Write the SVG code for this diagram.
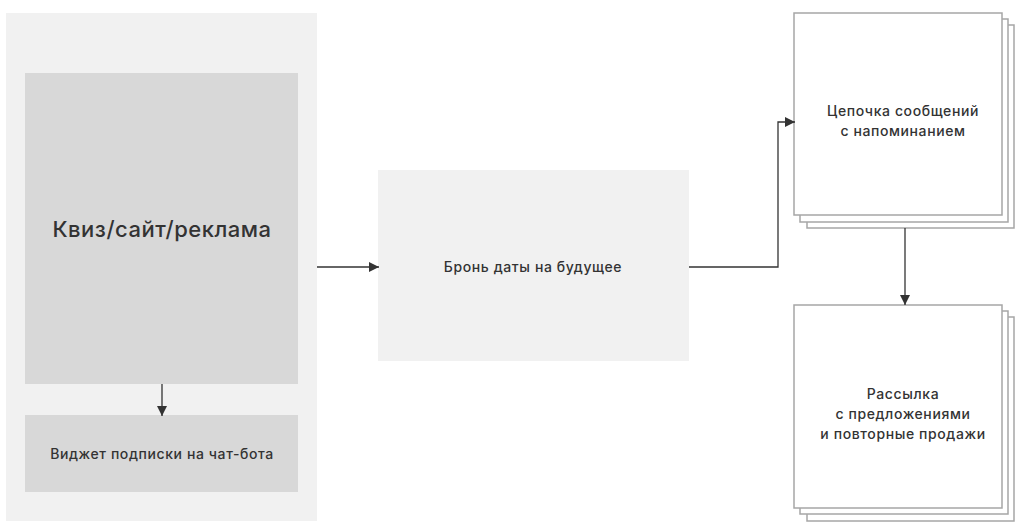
<svg xmlns="http://www.w3.org/2000/svg" width="1024" height="530" viewBox="0 0 1024 530">
<style>
.t{font-family:Inter,"Noto Sans","Liberation Sans",sans-serif;fill:#333;text-anchor:middle;font-weight:500}
.s{font-size:14px;letter-spacing:0.6px}
.card{fill:#fff;stroke:#a6a6a6;stroke-width:1.5}
.ln{fill:none;stroke:#333;stroke-width:1.3}
</style>
<defs>
<marker id="ah" viewBox="0 0 10 10" refX="10" refY="5" markerWidth="10" markerHeight="10" markerUnits="userSpaceOnUse" orient="auto">
<path d="M0,0L10,5L0,10z" fill="#333"/>
</marker>
</defs>
<rect width="1024" height="530" fill="#fff"/>
<g id="panel"><rect x="6" y="13" width="311" height="508" fill="#f1f1f1"/></g>
<g id="kviz"><rect x="25" y="73" width="273" height="311" fill="#d8d8d8"/>
<text class="t" x="162" y="237" font-size="22" letter-spacing="0.5">Квиз/сайт/реклама</text></g>
<g id="widget"><rect x="25" y="415" width="273" height="77" fill="#d8d8d8"/>
<text class="t s" x="162" y="459">Виджет подписки на чат-бота</text></g>
<g id="bron"><rect x="378" y="170" width="311" height="191" fill="#f1f1f1"/>
<text class="t s" x="533" y="272">Бронь даты на будущее</text></g>
<g id="chain">
<rect class="card" x="807" y="25" width="207" height="203"/>
<rect class="card" x="800" y="19" width="208" height="203"/>
<rect class="card" x="794" y="13" width="208" height="202"/>
<text class="t s" x="903" y="116">Цепочка сообщений</text>
<text class="t s" x="903" y="136">с напоминанием</text></g>
<g id="mail">
<rect class="card" x="807" y="317" width="207" height="204"/>
<rect class="card" x="800" y="311" width="208" height="203"/>
<rect class="card" x="794" y="305" width="208" height="203"/>
<text class="t s" x="903" y="399">Рассылка</text>
<text class="t s" x="903" y="419">с предложениями</text>
<text class="t s" x="903" y="439">и повторные продажи</text></g>
<g id="connectors">
<path class="ln" d="M162,384V416" marker-end="url(#ah)"/>
<path class="ln" d="M317,267H379" marker-end="url(#ah)"/>
<path class="ln" d="M689,267H778V122H795" marker-end="url(#ah)"/>
<path class="ln" d="M905,228V305" marker-end="url(#ah)"/>
</g>
</svg>
